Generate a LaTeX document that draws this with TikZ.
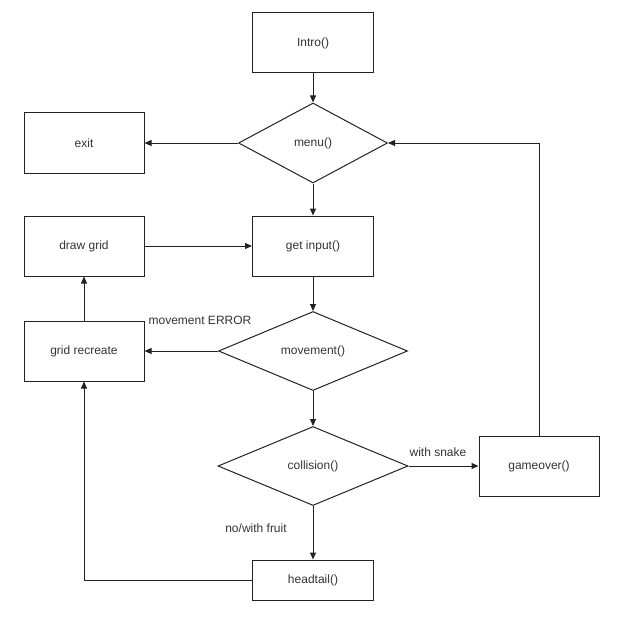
\documentclass[tikz,border=0pt]{standalone}
\usepackage{fontspec}
\setmainfont{Liberation Sans}
\usetikzlibrary{shapes.geometric,arrows.meta}
\definecolor{lc}{HTML}{222222}
\definecolor{tc}{HTML}{333333}
\begin{document}
\begin{tikzpicture}[x=1pt,y=-1pt,
  every node/.style={font=\fontsize{12}{14}\selectfont,text=tc},
  box/.style={draw=lc,line width=1pt,rectangle,inner sep=0pt,minimum width=121pt,minimum height=60pt},
  dia/.style={draw=lc,line width=1pt,diamond,inner sep=0pt},
  arr/.style={draw=lc,line width=1pt,-{Triangle[length=7pt,width=6pt]}},
  lbl/.style={inner sep=0pt}]
\useasboundingbox (0,0) rectangle (623,623);
\node[box] (intro) at (313,43) {Intro()};
\node[dia,minimum width=149pt,minimum height=80pt] (menu) at (313,143) {menu()};
\node[box,minimum width=120pt] (exit) at (84,143) {exit};
\node[box,minimum width=120pt] (drawgrid) at (84,246) {draw grid};
\node[box] (getinput) at (313,246) {get input()};
\node[dia,minimum width=189pt,minimum height=79pt] (movement) at (313,351) {movement()};
\node[box,minimum width=120pt] (gridrec) at (84,351) {grid recreate};
\node[dia,minimum width=190pt,minimum height=79pt] (collision) at (313,466) {collision()};
\node[box,minimum width=120pt] (gameover) at (539,466) {gameover()};
\node[box,minimum height=40pt] (headtail) at (313,580) {headtail()};
\node[lbl] (lerr) at (200,320) {movement ERROR};
\node[lbl] (lsnake) at (438,452) {with snake};
\node[lbl] (lfruit) at (256,528) {no/with fruit};
\draw[arr] (intro.south) -- (menu.north);
\draw[arr] (menu.west) -- (exit.east);
\draw[arr] (menu.south) -- (getinput.north);
\draw[arr] (drawgrid.east) -- (getinput.west);
\draw[arr] (getinput.south) -- (movement.north);
\draw[arr] (movement.west) -- (gridrec.east);
\draw[arr] (gridrec.north) -- (drawgrid.south);
\draw[arr] (movement.south) -- (collision.north);
\draw[arr] (collision.east) -- (gameover.west);
\draw[arr] (collision.south) -- (headtail.north);
\draw[arr] (headtail.west) -| (gridrec.south);
\draw[arr] (gameover.north) |- (menu.east);
\end{tikzpicture}
\end{document}
